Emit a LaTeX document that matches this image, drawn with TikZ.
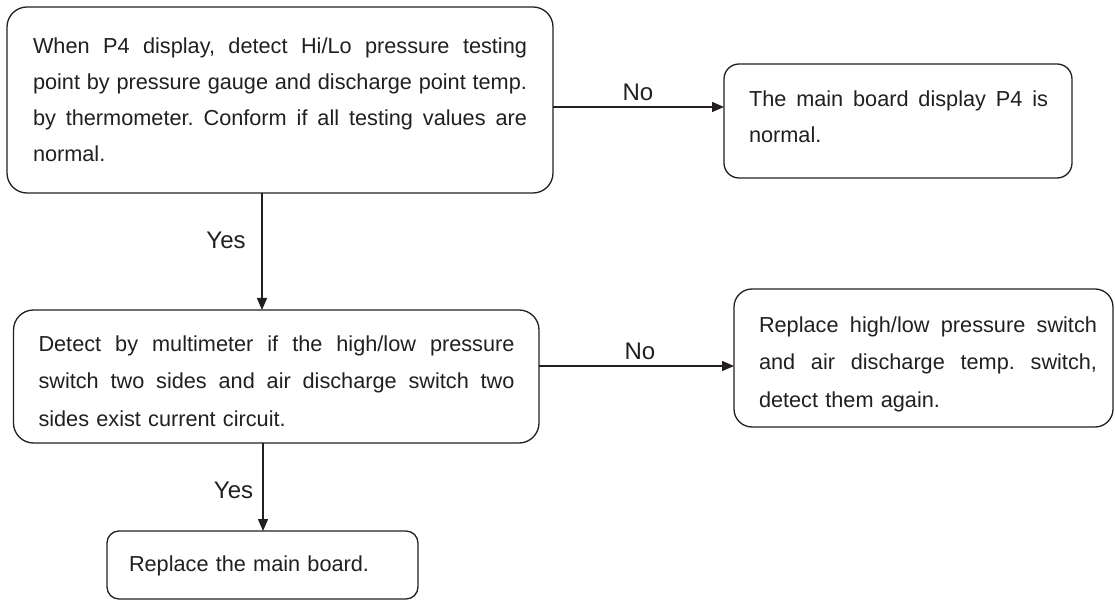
\documentclass[tikz,border=0pt]{standalone}
\usepackage{fontspec}
\setmainfont{Liberation Sans}
\usetikzlibrary{arrows.meta}
\frenchspacing
\definecolor{ink}{RGB}{35,31,32}
\newcommand{\jline}[2]{\leavevmode\hbox to #1{\spaceskip=0.278em plus 1fil\relax #2}}
\tikzset{
  box/.style={draw=ink, line width=1.3pt, rounded corners=15pt, inner sep=0pt, outer sep=0pt},
  txt/.style={inner sep=0pt, outer sep=0pt, anchor=base west, align=left, text=ink},
  arr/.style={draw=ink, line width=1.4pt, -{Triangle[length=12pt,width=10pt]}},
  lbl/.style={inner sep=0pt, anchor=base, text=ink, font=\fontsize{24pt}{28pt}\selectfont},
  sp36/.style={font=\fontsize{21.7pt}{36pt}\selectfont},
  sp375/.style={font=\fontsize{21.7pt}{37.5pt}\selectfont}
}
\begin{document}
\begin{tikzpicture}[x=1pt,y=-1pt]
\useasboundingbox (0,0) rectangle (1115,601);
\fill[white] (0,0) rectangle (1115,601);

% boxes
\node[box, rounded corners=20pt, minimum width=546pt, minimum height=186pt] (b1) at (280,100) {};
\node[box, minimum width=348pt, minimum height=114pt] (b2) at (898,121) {};
\node[box, rounded corners=20pt, minimum width=525.5pt, minimum height=133pt] (b3) at (276.25,376.5) {};
\node[box, rounded corners=18pt, minimum width=379pt, minimum height=138pt] (b4) at (923.5,358) {};
\node[box, rounded corners=12pt, minimum width=311pt, minimum height=68pt] (b5) at (262.5,565) {};

% texts
\node[txt, sp36, text width=494pt] (t1) at (33,54) {%
\jline{494pt}{When P4 display, detect Hi/Lo pressure testing}\\
\jline{494pt}{point by pressure gauge and discharge point temp.}\\
\jline{494pt}{by thermometer. Conform if all testing values are}\\
normal.};
\node[txt, sp36, text width=299pt] (t2) at (749,107) {%
\jline{299pt}{The main board display P4 is}\\
normal.};
\node[txt, sp375, text width=476pt] (t3) at (38.5,351) {%
\jline{476pt}{Detect by multimeter if the high/low pressure}\\
\jline{476pt}{switch two sides and air discharge switch two}\\
sides exist current circuit.};
\node[txt, sp375, text width=338pt] (t4) at (759,332) {%
\jline{338pt}{Replace high/low pressure switch}\\
\jline{338pt}{and air discharge temp. switch,}\\
detect them again.};
\node[txt, sp36, text width=280pt] (t5) at (129,571) {Replace the main board.};

% connectors
\coordinate (h1) at (0,107);
\coordinate (h2) at (0,366);
\coordinate (v1) at (262,0);
\coordinate (v2) at (263,0);
\draw[arr] (b1.east |- h1) -- (b2.west |- h1);
\draw[arr] (b3.east |- h2) -- (b4.west |- h2);
\draw[arr] (b1.south -| v1) -- (b3.north -| v1);
\draw[arr] (b3.south -| v2) -- (b5.north -| v2);

% labels
\node[lbl] (no1) at (638,101) {No};
\node[lbl] (no2) at (640,359) {No};
\node[lbl] (yes1) at (226,249) {Yes};
\node[lbl] (yes2) at (233.5,498) {Yes};
\end{tikzpicture}
\end{document}
